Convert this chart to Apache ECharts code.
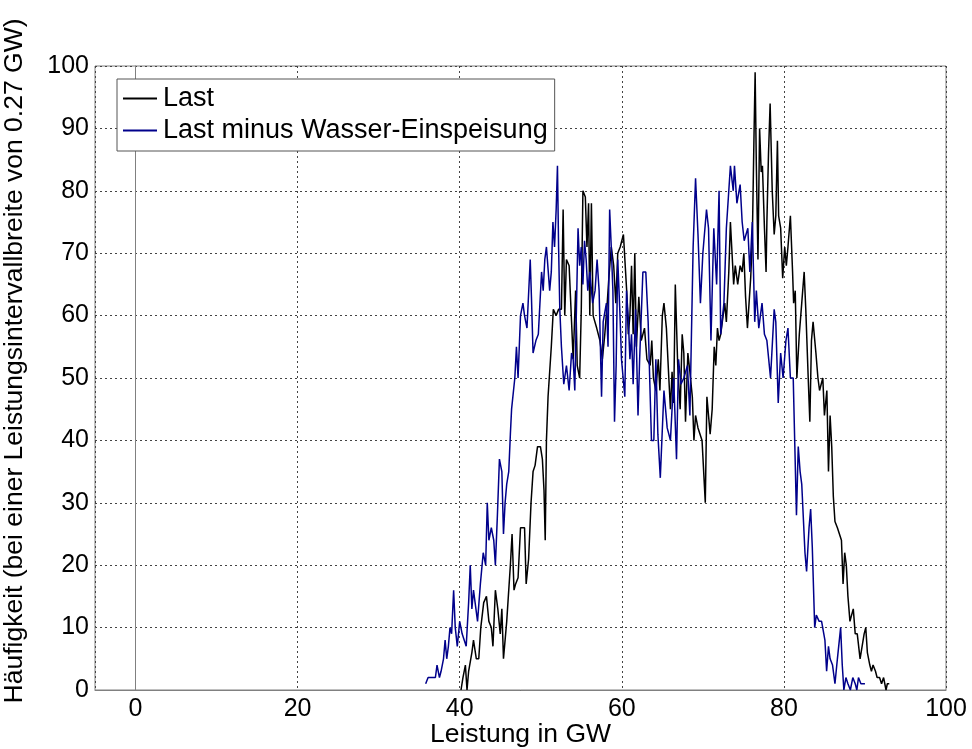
<!DOCTYPE html>
<html>
<head>
<meta charset="utf-8">
<script src="https://cdn.jsdelivr.net/npm/echarts@6/dist/echarts.min.js"></script>
<style>
html,body{margin:0;padding:0;background:#fff;}
#chart{width:972px;height:749px;}
</style>
</head>
<body>
<div id="chart"></div>
<script>
// Series names
var seriesNames = ['Last', 'Last minus Wasser-Einspeisung'];

// "Last" histogram (x in GW, y = count)
var lastX = [40.16,40.4,40.7,40.9,41.1,41.5,41.7,42.05,42.35,42.6,42.96,43.3,43.6,43.9,44.1,44.4,44.7,45.0,45.2,45.4,45.8,45.9,46.25,46.46,46.7,46.9,47.2,47.5,47.7,48.0,48.2,48.5,48.8,49.05,49.3,49.6,49.96,50.2,50.4,50.55,50.7,50.9,51.3,51.55,51.9,52.2,52.55,52.76,52.96,53.17,53.5,53.8,54.0,54.3,54.5,54.8,55.0,55.2,55.5,55.7,55.9,56.05,56.25,56.46,56.9,57.3,57.6,57.9,58.2,58.4,58.7,59.0,59.26,59.5,59.8,60.2,60.4,60.6,60.8,61.0,61.2,61.4,61.6,61.8,62.1,62.4,62.6,62.8,63.1,63.5,63.7,63.9,64.2,64.5,64.7,65.0,65.2,65.5,65.8,66.0,66.2,66.4,66.6,66.9,67.2,67.45,67.65,67.86,68.15,68.4,68.7,68.9,69.1,69.4,69.6,69.9,70.3,70.5,70.9,71.15,71.4,71.6,71.8,72.0,72.2,72.4,72.7,72.9,73.2,73.4,73.6,73.8,74.0,74.3,74.6,74.85,75.06,75.27,75.5,75.7,75.9,76.1,76.3,76.45,76.6,76.8,77.0,77.2,77.35,77.6,77.8,77.9,78.1,78.3,78.56,78.8,79.0,79.2,79.35,79.6,79.85,80.1,80.3,80.5,80.8,81.07,81.2,81.4,81.6,81.9,82.2,82.5,82.7,83.0,83.2,83.4,83.6,83.95,84.2,84.4,84.8,85.0,85.3,85.5,85.7,85.9,86.1,86.3,86.6,86.8,87.1,87.3,87.5,87.7,87.9,88.15,88.35,88.56,88.8,89.05,89.4,89.6,89.9,90.1,90.3,90.6,90.8,91.0,91.3,91.5,91.8,92.05,92.3,92.6,92.76,93.0];
var lastY = [0,2,4,0,3,6,8,5,5,10,14,15,11,10,7,16,13,9,13,5,11,11,20,25,16,17,18,26,26,26,17,21,30,35,36,39,39,37,32,24,40,47,55,61,60,61,61,77,60,69,68,59,53,64,52,50,61,80,79,71,78,60,78,60,58,56,53,57,62,66,71,68,62,70,71,73,73,64,57,60,68,57,70,55,63,56,57,58,53,52,56,50,48,53,48,60,62,58,50,45,51,46,65,52,45,57,54,43,54,51,47,40,44,42,42,40,30,47,41,45,55,52,58,56,57,59,62,59,67,75,70,65,68,65,68,67,70,63,58,62,66,72,88,99,84,69,90,83,84,74,67,75,86,94,80,73,76,88,76,74,66,71,68,71,76,67,62,64,50,57,62,67,61,50,43,56,59,54,50,48,50,44,48,35,44,39,31,27,26,26,24,17,22,20,15,11,12,13,9,9,5,5,9,10,6,4,3,4,3,2,2,1,2,0,1,1];

// "Last minus Wasser-Einspeisung" histogram
var netX = [35.8,36.1,36.6,37.0,37.2,37.5,37.7,38.0,38.2,38.4,38.6,38.8,39.0,39.25,39.45,39.7,40.0,40.3,40.55,40.8,41.1,41.3,41.5,41.7,41.9,42.2,42.55,42.9,43.2,43.4,43.6,43.9,44.2,44.4,44.65,44.9,45.2,45.4,45.6,45.8,46.05,46.25,46.4,46.8,47.0,47.2,47.5,47.8,48.0,48.3,48.7,48.85,49.05,49.4,49.7,49.9,50.1,50.3,50.5,50.7,50.9,51.1,51.3,51.5,51.7,51.9,52.06,52.2,52.35,52.55,52.84,53.17,53.5,53.8,54.0,54.2,54.6,54.8,55.0,55.2,55.4,55.6,55.8,56.05,56.4,56.7,56.95,57.2,57.5,57.7,58.1,58.3,58.5,58.7,58.9,59.1,59.3,59.5,59.75,59.96,60.37,60.58,60.78,61.0,61.2,61.4,61.7,62.0,62.2,62.6,62.96,63.25,63.46,63.66,63.95,64.2,64.45,64.75,65.2,65.6,66.0,66.4,66.75,67.0,67.3,67.65,68.1,68.4,68.8,69.1,69.4,69.7,70.0,70.45,70.7,71.0,71.35,71.7,72.0,72.2,72.6,72.9,73.2,73.4,73.75,73.9,74.2,74.6,74.85,75.1,75.55,75.8,76.1,76.4,76.6,76.9,77.3,77.6,77.9,78.35,78.8,79.0,79.3,79.6,79.9,80.25,80.5,80.8,81.15,81.35,81.55,81.77,82.0,82.2,82.4,82.6,82.8,83.1,83.3,83.5,83.8,84.0,84.35,84.65,85.06,85.27,85.5,85.7,86.0,86.3,86.6,86.8,87.0,87.2,87.4,87.65,87.9,88.2,88.5,88.8,89.0,89.2,89.5,89.7,90.0];
var netY = [1,2,2,2,4,2,3,5,8,5,7,10,9,16,10,7,11,9,8,7,14,20,13,16,14,11,17,22,20,30,24,26,24,20,28,37,35,25,30,33,35,41,45,50,55,50,60,62,60,58,69,63,54,56,57,57,67,64,69,71,71,64,67,75,71,77,84,71,61,55,49,52,48,54,53,48,74,68,71,65,72,69,64,67,62,64,69,64,47,59,62,55,77,71,64,43,52,69,61,53,47,64,60,53,57,49,61,44,53,67,67,59,49,40,40,53,41,34,48,42,40,50,37,53,49,50,52,44,71,82,73,62,70,77,74,56,74,65,80,57,62,74,80,84,80,84,78,81,75,72,74,67,75,59,64,58,62,57,56,50,61,59,46,54,50,56,58,50,50,39,28,39,35,33,33,22,19,26,29,23,10,12,11,11,8,3,7,5,4,1,5,5,10,4,0,2,1,0,2,1,0,2,1,1,1];

var xTickLabels = [0, 20, 40, 60, 80, 100];

function zip(xs, ys) {
  var out = [];
  for (var i = 0; i < xs.length; i++) out.push([xs[i], ys[i]]);
  return out;
}

var FONT = "'Liberation Sans', Arial, sans-serif";
var chart = echarts.init(document.getElementById('chart'), null, {renderer: 'canvas'});

chart.setOption({
  animation: false,
  backgroundColor: '#ffffff',
  grid: {
    left: 95, right: 26, top: 66, bottom: 59,
    show: true, borderColor: '#808080', borderWidth: 1, backgroundColor: 'transparent',
    containLabel: false,
    outerBoundsMode: 'none'
  },
  legend: {
    orient: 'vertical',
    left: 117, top: 79,
    data: seriesNames,
    icon: 'rect',
    itemWidth: 34, itemHeight: 2,
    itemGap: 5,
    padding: [6, 7, 7, 6],
    backgroundColor: '#ffffff',
    borderColor: '#555555', borderWidth: 1,
    textStyle: {fontFamily: FONT, fontSize: 27, color: '#000', lineHeight: 26, padding: [0,0,0,1]}
  },
  xAxis: {
    type: 'value',
    min: -5, max: 100,
    splitNumber: 5,
    name: 'Leistung in GW',
    nameLocation: 'middle',
    nameGap: 32,
    nameMoveOverlap: false,
    nameTextStyle: {fontFamily: FONT, fontSize: 26.5, color: '#000', lineHeight: 26},
    axisLine: {show: true, lineStyle: {color: '#808080', width: 1}},
    axisTick: {show: false},
    axisLabel: {
      fontFamily: FONT, fontSize: 25, color: '#000', margin: 7,
      showMinLabel: false,
      formatter: function (v) { return xTickLabels.indexOf(v) >= 0 ? String(v) : ''; }
    },
    splitLine: {show: true, lineStyle: {color: '#444', width: 1, type: [2, 3]}}
  },
  yAxis: {
    type: 'value',
    min: 0, max: 100, interval: 10,
    name: 'Häufigkeit (bei einer Leistungsintervallbreite von 0.27 GW)',
    nameLocation: 'middle',
    nameGap: 67,
    nameMoveOverlap: false,
    nameTextStyle: {fontFamily: FONT, fontSize: 26.5, color: '#000', lineHeight: 26, padding: [0, 0, 0, 34]},
    axisLine: {show: true, lineStyle: {color: '#808080', width: 1}},
    axisTick: {show: false},
    axisLabel: {fontFamily: FONT, fontSize: 25, color: '#000', margin: 6},
    splitLine: {show: true, lineStyle: {color: '#444', width: 1, type: [2, 3]}}
  },
  series: [
    {
      name: seriesNames[0], type: 'line', data: zip(lastX, lastY),
      symbol: 'none', showSymbol: false,
      lineStyle: {color: '#000000', width: 1.5},
      itemStyle: {color: '#000000'}
    },
    {
      name: seriesNames[1], type: 'line', data: zip(netX, netY),
      symbol: 'none', showSymbol: false,
      lineStyle: {color: '#00008B', width: 1.5},
      itemStyle: {color: '#00008B'}
    }
  ]
});
</script>
</body>
</html>
